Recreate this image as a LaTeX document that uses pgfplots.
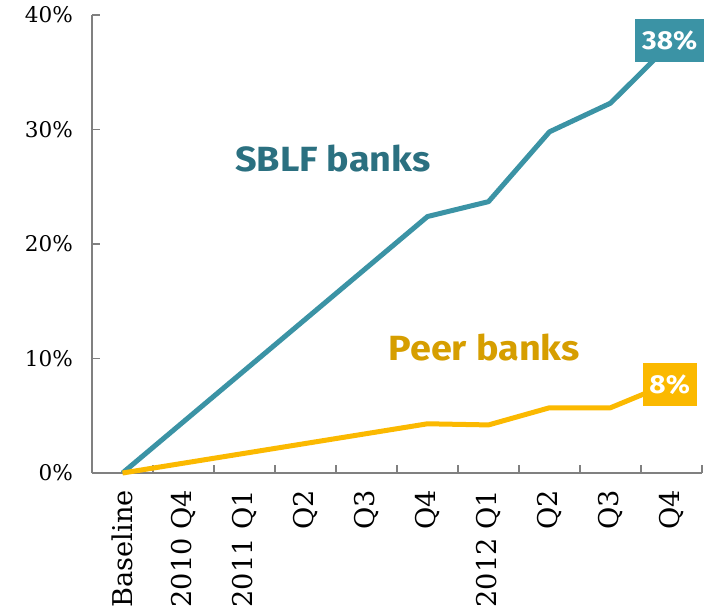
\documentclass[border=0pt]{standalone}
\usepackage{pgfplots}
\pgfplotsset{compat=1.18}
\usepackage{fontspec}
\setmainfont{DejaVu Serif}
\newfontfamily\labfont{Fira Sans}
\newfontfamily\labwide[FakeStretch=1.08]{Fira Sans}
\definecolor{sblf}{RGB}{59,147,165}
\definecolor{sblftext}{RGB}{43,112,128}
\definecolor{peer}{RGB}{251,185,0}
\definecolor{peertext}{RGB}{214,158,0}
\definecolor{axgray}{RGB}{128,128,128}
\begin{document}
\begin{tikzpicture}
\begin{axis}[name=ax, scale only axis, width=305pt, height=229pt,
  xmin=-0.5, xmax=9.5, ymin=0, ymax=40,
  axis lines=left, axis line style={-, draw=axgray, line width=0.75pt},
  xtick={0,...,9},
  xticklabels={Baseline,2010 Q4,2011 Q1,Q2,Q3,Q4,2012 Q1,Q2,Q3,Q4},
  major x tick style={draw=none},
  minor xtick={0.5,1.5,...,9.5},
  ytick={0,10,...,40},
  tick align=inside, major tick length=4pt, minor tick length=4pt,
  tick style={draw=axgray, line width=0.75pt},
  yticklabel={\pgfmathprintnumber{\tick}\%},
  /pgf/number format/assume math mode=true,
  yticklabel style={font=\fontsize{10.8}{12}\selectfont, xshift=-6pt},
  xticklabel style={rotate=90, anchor=east, font=\fontsize{13.6}{15}\selectfont},
  xticklabel shift=5pt,
  clip=false,
]
\addplot[sblf, line width=2.5pt, line join=round] coordinates {(0,0) (5,22.4) (6,23.7) (7,29.8) (8,32.3) (9,37.6)};
\addplot[peer, line width=2.5pt, line join=round] coordinates {(0,0) (5,4.3) (6,4.2) (7,5.7) (8,5.7) (9,7.9)};
\node[fill=sblf, text=white, font=\labwide\bfseries\fontsize{13}{15}\selectfont, minimum width=34.5pt, minimum height=21.5pt, inner sep=0pt] at (axis cs:8.97,37.75) {38\%};
\node[fill=peer, text=white, font=\labwide\bfseries\fontsize{13}{15}\selectfont, minimum width=27pt, minimum height=21.5pt, inner sep=0pt] at (axis cs:8.97,7.7) {8\%};
\node[text=sblftext, font=\labwide\bfseries\fontsize{17.5}{19}\selectfont] at (axis cs:3.45,27.5) {SBLF banks};
\node[text=peertext, font=\labwide\bfseries\fontsize{17.5}{19}\selectfont] at (axis cs:5.93,11.0) {Peer banks};
\end{axis}
\pgfresetboundingbox
\path ([shift={(-46pt,-69pt)}]ax.south west) rectangle ([shift={(5pt,7.5pt)}]ax.north east);
\end{tikzpicture}
\end{document}
